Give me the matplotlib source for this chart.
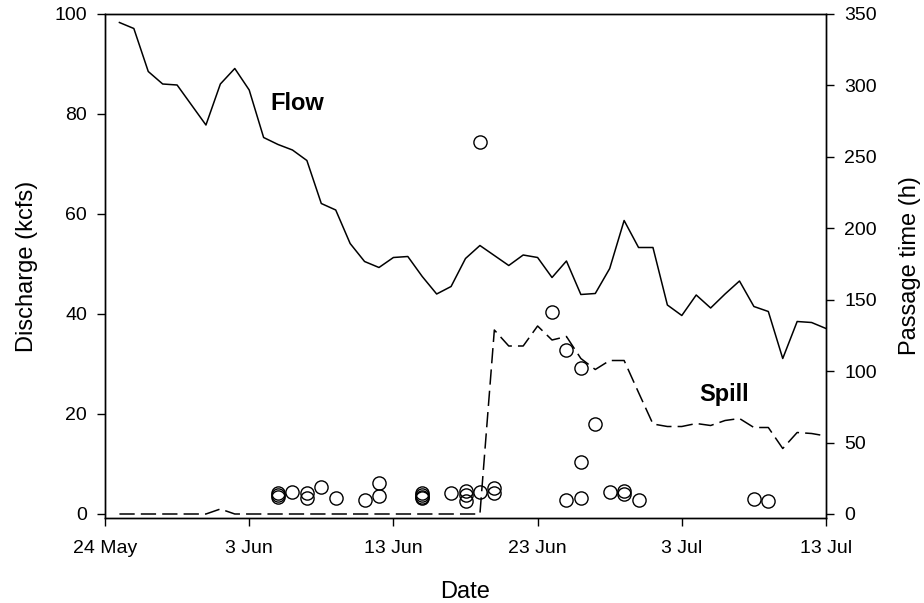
import numpy as np
import matplotlib
matplotlib.use("Agg")
import matplotlib.pyplot as plt

plt.rcParams['font.family'] = ['Liberation Sans', 'DejaVu Sans']

# days after 24 May
flow_days = np.arange(1, 51)
flow = [98.3, 97.1, 88.5, 86.0, 85.8, 81.8, 77.8, 86.0, 89.1, 84.8,
        75.3, 73.9, 72.8, 70.7, 62.1, 60.8, 54.1, 50.5, 49.3, 51.3,
        51.5, 47.5, 44.0, 45.5, 51.1, 53.7, 51.7, 49.7, 51.8, 51.3,
        47.3, 50.6, 43.9, 44.1, 49.1, 58.7, 53.3, 53.3, 41.8, 39.7,
        43.8, 41.2, 44.0, 46.6, 41.5, 40.5, 31.1, 38.5, 38.3, 37.1]
spill = [0, 0, 0, 0, 0, 0, 0, 1.0, 0, 0,
         0, 0, 0, 0, 0, 0, 0, 0, 0, 0,
         0, 0, 0, 0, 0, 0, 36.8, 33.6, 33.6, 37.6,
         34.8, 35.5, 31.1, 28.9, 30.7, 30.7, 24.3, 18.0, 17.5, 17.5,
         18.1, 17.7, 18.7, 19.1, 17.3, 17.3, 13.1, 16.3, 16.1, 15.6]

# passage time of individual fish (h)
fish_days = [12, 12, 12, 13, 14, 14, 15, 16, 18, 19, 19,
             22, 22, 22, 22, 24, 25, 25, 25, 26, 26, 27, 27,
             31, 32, 32, 33, 33, 33, 34, 35, 36, 36, 37, 45, 46]
passage = [14.5, 13.0, 12.0, 15.6, 14.9, 11.4, 19.1, 11.0, 9.8, 21.5, 12.8,
           14.5, 13.3, 12.2, 11.0, 14.5, 16.3, 13.3, 9.1, 260.6, 15.2, 18.0, 14.9,
           141.2, 114.8, 9.8, 102.0, 36.2, 11.4, 63.0, 15.6, 16.1, 14.0, 9.8, 10.5, 9.1]

xticks = [0, 10, 20, 30, 40, 50]
xticklabels = ['24 May', '3 Jun', '13 Jun', '23 Jun', '3 Jul', '13 Jul']

fig = plt.figure(figsize=(9.24, 6.03), dpi=100)
ax = fig.add_axes([105 / 924, 1 - 518 / 603, (826 - 105) / 924, (518 - 14) / 603])
ax2 = ax.twinx()

ax.plot(flow_days, flow, color='black', lw=1.1)
ax.plot(flow_days, spill, color='black', lw=1.1, linestyle=(0, (10, 4)))
ax2.plot(fish_days, passage, linestyle='none', marker='o', markersize=9.5,
         markerfacecolor='none', markeredgecolor='black', markeredgewidth=1.0)

ax.set_xlim(0, 50)
ax.set_ylim(-0.8, 100)
ax2.set_ylim(-2.8, 350)
ax.set_xticks(xticks)
ax.set_xticklabels(xticklabels)
ax.set_yticks(np.arange(0, 101, 20))
ax2.set_yticks(np.arange(0, 351, 50))

for a in (ax, ax2):
    a.tick_params(direction='out', length=6, width=1, labelsize=14, pad=7)
    for s in a.spines.values():
        s.set_linewidth(1.0)
ax.tick_params(axis='x', pad=10)

ax.set_xlabel('Date', fontsize=17, labelpad=17)
ax.set_ylabel('Discharge (kcfs)', fontsize=17, labelpad=12)
ax2.set_ylabel('Passage time (h)', fontsize=17, labelpad=16)

ax.text(13.3, 82, 'Flow', fontsize=17, fontweight='bold', ha='center', va='center')
ax.text(42.9, 24, 'Spill', fontsize=17, fontweight='bold', ha='center', va='center')

fig.savefig('out.png', dpi=100)
